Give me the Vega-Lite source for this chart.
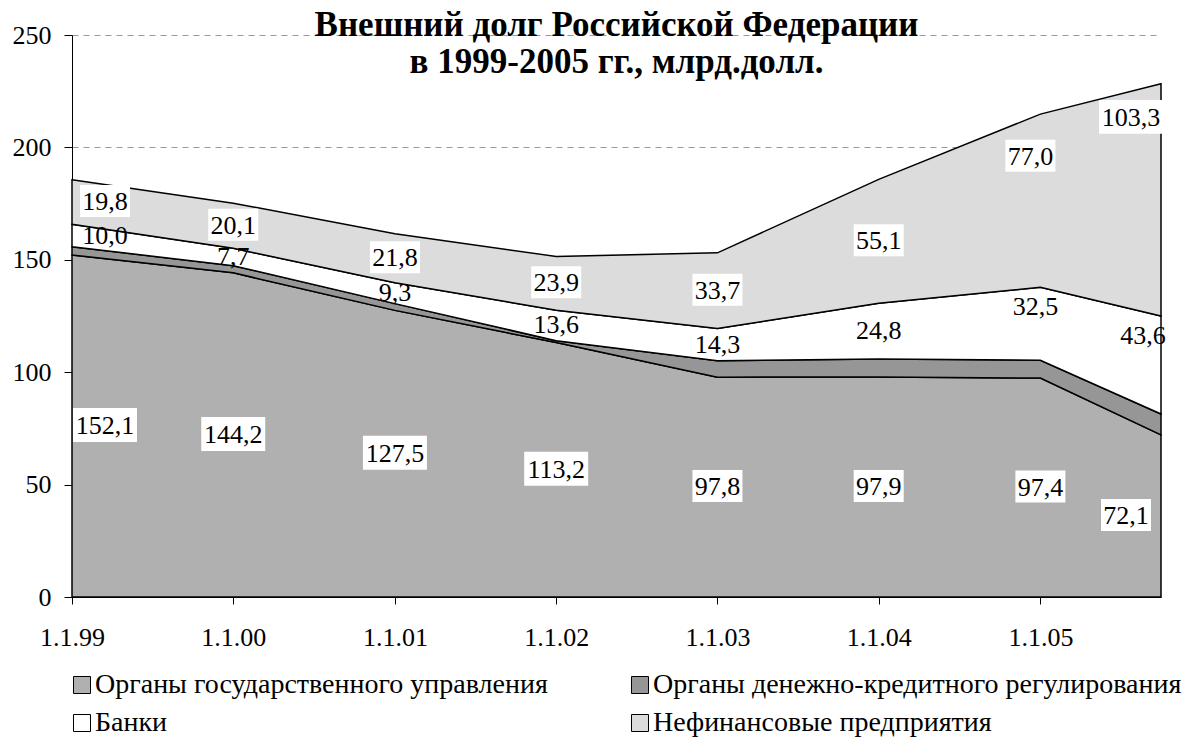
{
 "$schema": "https://vega.github.io/schema/vega-lite/v6.json",
 "width": 1089,
 "height": 562,
 "autosize": {"type": "none"},
 "padding": {"left": 72, "top": 35, "right": 26, "bottom": 143},
 "background": "white",
 "title": {"text": ["Внешний долг Российской Федерации", "в 1999-2005 гг., млрд.долл."], "font": "Liberation Serif", "fontSize": 35, "fontWeight": "bold", "anchor": "middle", "lineHeight": 37, "offset": -58, "color": "black"},
 "config": {"view": {"stroke": null}, "locale": {"number": {"decimal": ",", "thousands": " ", "grouping": [3], "currency": ["", ""]}}},
 "data": {"values": [
  {"date": "1999/01/01", "series": "Органы государственного управления", "n": 1, "value": 152.1},
  {"date": "1999/01/01", "series": "Органы денежно-кредитного регулирования", "n": 2, "value": 3.7},
  {"date": "1999/01/01", "series": "Банки", "n": 3, "value": 10.0},
  {"date": "1999/01/01", "series": "Нефинансовые предприятия", "n": 4, "value": 19.8},
  {"date": "2000/01/01", "series": "Органы государственного управления", "n": 1, "value": 144.2},
  {"date": "2000/01/01", "series": "Органы денежно-кредитного регулирования", "n": 2, "value": 3.2},
  {"date": "2000/01/01", "series": "Банки", "n": 3, "value": 7.7},
  {"date": "2000/01/01", "series": "Нефинансовые предприятия", "n": 4, "value": 20.1},
  {"date": "2001/01/01", "series": "Органы государственного управления", "n": 1, "value": 127.5},
  {"date": "2001/01/01", "series": "Органы денежно-кредитного регулирования", "n": 2, "value": 3.0},
  {"date": "2001/01/01", "series": "Банки", "n": 3, "value": 9.3},
  {"date": "2001/01/01", "series": "Нефинансовые предприятия", "n": 4, "value": 21.8},
  {"date": "2002/01/01", "series": "Органы государственного управления", "n": 1, "value": 113.2},
  {"date": "2002/01/01", "series": "Органы денежно-кредитного регулирования", "n": 2, "value": 0.8},
  {"date": "2002/01/01", "series": "Банки", "n": 3, "value": 13.6},
  {"date": "2002/01/01", "series": "Нефинансовые предприятия", "n": 4, "value": 23.9},
  {"date": "2003/01/01", "series": "Органы государственного управления", "n": 1, "value": 97.8},
  {"date": "2003/01/01", "series": "Органы денежно-кредитного регулирования", "n": 2, "value": 7.3},
  {"date": "2003/01/01", "series": "Банки", "n": 3, "value": 14.3},
  {"date": "2003/01/01", "series": "Нефинансовые предприятия", "n": 4, "value": 33.7},
  {"date": "2004/01/01", "series": "Органы государственного управления", "n": 1, "value": 97.9},
  {"date": "2004/01/01", "series": "Органы денежно-кредитного регулирования", "n": 2, "value": 8.0},
  {"date": "2004/01/01", "series": "Банки", "n": 3, "value": 24.8},
  {"date": "2004/01/01", "series": "Нефинансовые предприятия", "n": 4, "value": 55.1},
  {"date": "2005/01/01", "series": "Органы государственного управления", "n": 1, "value": 97.4},
  {"date": "2005/01/01", "series": "Органы денежно-кредитного регулирования", "n": 2, "value": 7.9},
  {"date": "2005/01/01", "series": "Банки", "n": 3, "value": 32.5},
  {"date": "2005/01/01", "series": "Нефинансовые предприятия", "n": 4, "value": 77.0},
  {"date": "2005/10/01", "series": "Органы государственного управления", "n": 1, "value": 72.1},
  {"date": "2005/10/01", "series": "Органы денежно-кредитного регулирования", "n": 2, "value": 9.3},
  {"date": "2005/10/01", "series": "Банки", "n": 3, "value": 43.6},
  {"date": "2005/10/01", "series": "Нефинансовые предприятия", "n": 4, "value": 103.3}
 ]},
 "transform": [
  {"stack": "value", "groupby": ["date"], "sort": [{"field": "n", "order": "ascending"}], "as": ["y0", "y1"]}
 ],
 "encoding": {
  "x": {"field": "date", "type": "temporal",
        "scale": {"domain": [{"year": 1999, "month": 1, "date": 1}, {"year": 2005, "month": 10, "date": 1}]},
        "axis": {"values": [{"year": 1999, "month": 1, "date": 1}, {"year": 2000, "month": 1, "date": 1}, {"year": 2001, "month": 1, "date": 1}, {"year": 2002, "month": 1, "date": 1}, {"year": 2003, "month": 1, "date": 1}, {"year": 2004, "month": 1, "date": 1}, {"year": 2005, "month": 1, "date": 1}],
                 "format": "%-d.%-m.%y", "title": null, "grid": false, "labelFont": "Liberation Serif", "labelFontSize": 26, "labelColor": "black", "tickColor": "black", "domainColor": "black", "tickSize": 7, "labelPadding": 20, "labelFlush": false, "labelOverlap": false}}
 },
 "layer": [
  {
   "mark": {"type": "area", "stroke": "black", "strokeWidth": 1.5, "opacity": 1},
   "encoding": {
    "y": {"field": "y1", "type": "quantitative",
          "scale": {"domain": [0, 250], "nice": false},
          "axis": {"values": [0, 50, 100, 150, 200, 250], "title": null, "grid": true, "gridDash": [6, 5], "gridColor": "#999999", "gridWidth": 1, "labelFont": "Liberation Serif", "labelFontSize": 26, "labelColor": "black", "tickColor": "black", "domainColor": "black", "tickSize": 8, "labelPadding": 13}},
    "y2": {"field": "y0"},
    "color": {"field": "series", "type": "nominal",
              "scale": {"domain": ["Органы государственного управления", "Органы денежно-кредитного регулирования", "Банки", "Нефинансовые предприятия"], "range": ["#b0b0b0", "#969696", "#ffffff", "#dcdcdc"]},
              "legend": {"orient": "none", "legendX": -4, "legendY": 636, "direction": "horizontal", "columns": 2, "columnPadding": 78, "rowPadding": 10, "gridAlign": "each", "padding": 0, "symbolType": "square", "symbolSize": 289, "symbolStrokeColor": "black", "symbolStrokeWidth": 1, "labelFont": "Liberation Serif", "labelFontSize": 28, "labelColor": "black", "labelOffset": -1, "labelLimit": 0, "title": null}}
   }
  },
  {
   "transform": [
    {"fold": ["y0", "y1"], "as": ["k", "v"]},
    {"aggregate": [{"op": "mean", "field": "v", "as": "mid"}], "groupby": ["date", "series", "n", "value"]}
   ],
   "encoding": {
    "y": {"field": "mid", "type": "quantitative",
          "axis": {"values": [0, 50, 100, 150, 200, 250], "title": null, "grid": true, "gridDash": [6, 5], "gridColor": "#999999", "gridWidth": 1, "labelFont": "Liberation Serif", "labelFontSize": 26, "labelColor": "black", "tickColor": "black", "domainColor": "black", "tickSize": 8, "labelPadding": 13}},
    "text": {"field": "value", "type": "quantitative", "format": ".1f"}
   },
   "layer": [
    {"transform": [{"filter": "(datum.n == 1 || datum.n == 4) && year(datum.date) != 1999 && month(datum.date) != 9 && !(year(datum.date) == 2005 && month(datum.date) == 0 && datum.n != 1)"}],
     "mark": {"type": "point", "filled": true, "color": "white", "opacity": 1, "strokeWidth": 0, "xOffset": 0, "yOffset": -1},
     "encoding": {"shape": {"condition": {"test": "datum.value >= 100", "value": "M-1,-0.53H1V0.53H-1Z"}, "value": "M-1,-0.64H1V0.64H-1Z"},
                  "size": {"condition": {"test": "datum.value >= 100", "value": 4096}, "value": 2500}}},
    {"transform": [{"filter": "datum.n != 2 && year(datum.date) != 1999 && month(datum.date) != 9 && !(year(datum.date) == 2005 && month(datum.date) == 0 && datum.n != 1)"}],
     "mark": {"type": "text", "font": "Liberation Serif", "fontSize": 26, "color": "black", "baseline": "middle", "align": "center", "dx": 0, "dy": 0}},

    {"transform": [{"filter": "(datum.n == 1 || datum.n == 4) && year(datum.date) == 1999"}],
     "mark": {"type": "point", "filled": true, "color": "white", "opacity": 1, "strokeWidth": 0, "xOffset": 33, "yOffset": -1},
     "encoding": {"shape": {"condition": {"test": "datum.value >= 100", "value": "M-1,-0.53H1V0.53H-1Z"}, "value": "M-1,-0.64H1V0.64H-1Z"},
                  "size": {"condition": {"test": "datum.value >= 100", "value": 4096}, "value": 2500}}},
    {"transform": [{"filter": "datum.n != 2 && year(datum.date) == 1999"}],
     "mark": {"type": "text", "font": "Liberation Serif", "fontSize": 26, "color": "black", "baseline": "middle", "align": "center", "dx": 33, "dy": 0}},

    {"transform": [{"filter": "datum.n == 1 && month(datum.date) == 9"}],
     "mark": {"type": "point", "filled": true, "color": "white", "opacity": 1, "strokeWidth": 0, "xOffset": -35, "yOffset": -1},
     "encoding": {"shape": {"value": "M-1,-0.64H1V0.64H-1Z"}, "size": {"value": 2500}}},
    {"transform": [{"filter": "datum.n == 1 && month(datum.date) == 9"}],
     "mark": {"type": "text", "font": "Liberation Serif", "fontSize": 26, "color": "black", "baseline": "middle", "align": "center", "dx": -35, "dy": 0}},

    {"transform": [{"filter": "datum.n == 3 && month(datum.date) == 9"}],
     "mark": {"type": "text", "font": "Liberation Serif", "fontSize": 26, "color": "black", "baseline": "middle", "align": "center", "dx": -18, "dy": -29}},

    {"transform": [{"filter": "datum.n == 4 && month(datum.date) == 9"}],
     "mark": {"type": "point", "filled": true, "color": "white", "opacity": 1, "strokeWidth": 0, "xOffset": -30, "yOffset": -83},
     "encoding": {"shape": {"value": "M-1,-0.53H1V0.53H-1Z"}, "size": {"value": 4096}}},
    {"transform": [{"filter": "datum.n == 4 && month(datum.date) == 9"}],
     "mark": {"type": "text", "font": "Liberation Serif", "fontSize": 26, "color": "black", "baseline": "middle", "align": "center", "dx": -30, "dy": -82}},

    {"transform": [{"filter": "datum.n == 4 && year(datum.date) == 2005 && month(datum.date) == 0"}],
     "mark": {"type": "point", "filled": true, "color": "white", "opacity": 1, "strokeWidth": 0, "xOffset": -10, "yOffset": -45},
     "encoding": {"shape": {"value": "M-1,-0.64H1V0.64H-1Z"}, "size": {"value": 2500}}},
    {"transform": [{"filter": "datum.n == 4 && year(datum.date) == 2005 && month(datum.date) == 0"}],
     "mark": {"type": "text", "font": "Liberation Serif", "fontSize": 26, "color": "black", "baseline": "middle", "align": "center", "dx": -10, "dy": -44}},

    {"transform": [{"filter": "datum.n == 3 && year(datum.date) == 2005 && month(datum.date) == 0"}],
     "mark": {"type": "text", "font": "Liberation Serif", "fontSize": 26, "color": "black", "baseline": "middle", "align": "center", "dx": -5, "dy": -17}}
   ]
  }
 ]
}
